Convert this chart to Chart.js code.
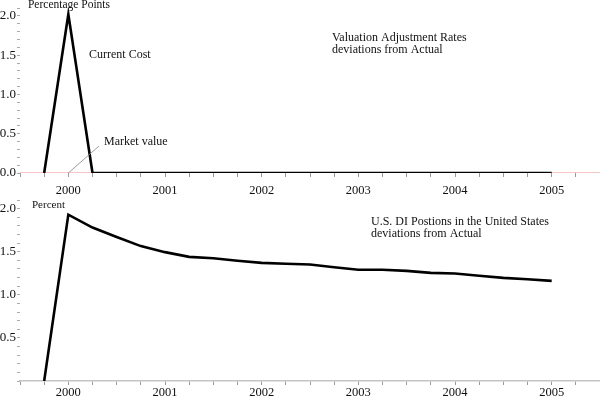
<!DOCTYPE html>
<html>
<head>
  <title>Valuation Adjustment Rates</title>
  <style>
    html, body { margin: 0; background: #fff; overflow: hidden; }
    .panel { position: relative; width: 600px; }
    #top { height: 197px; }
    #bottom { height: 208px; }
  </style>
</head>
<body>
  <div class="panel" id="top"><canvas id="topChart"></canvas></div>
  <div class="panel" id="bottom"><canvas id="bottomChart"></canvas></div>

  <script src="https://cdn.jsdelivr.net/npm/chart.js"></script>
  <script>
    // quarterly dates (fraction of year)
    const quarters = [1999.75, 2000, 2000.25, 2000.5, 2000.75, 2001, 2001.25, 2001.5, 2001.75,
      2002, 2002.25, 2002.5, 2002.75, 2003, 2003.25, 2003.5, 2003.75,
      2004, 2004.25, 2004.5, 2004.75, 2005];
    const yearTicks = [2000, 2001, 2002, 2003, 2004, 2005];

    // top panel: valuation adjustment rates, deviations from actual
    const currentCost = [0, 2.02, 0, 0, 0, 0, 0, 0, 0, 0, 0, 0, 0, 0, 0, 0, 0, 0, 0, 0, 0, 0];
    const marketYears = [1999.5, 2005.5];
    const marketValue = [0, 0];

    // bottom panel: U.S. DI positions, deviations from actual
    const diPositions = [0, 1.93, 1.78, 1.67, 1.565, 1.495, 1.44, 1.425, 1.395,
      1.37, 1.36, 1.352, 1.32, 1.29, 1.29, 1.278, 1.255,
      1.247, 1.222, 1.197, 1.18, 1.162];

    const serif = "'Liberation Serif', 'DejaVu Serif', serif";
    Chart.defaults.font.family = serif;
    Chart.defaults.color = '#111';

    function pts(xs, ys) {
      return xs.map((x, i) => ({ x: x, y: ys[i] }));
    }

    function xScale(showBorder, labelPad) {
      return {
        type: 'linear',
        min: 1999.5,
        max: 2005.5,
        border: { display: showBorder, color: '#c4c4c4', width: 1.5 },
        grid: { drawOnChartArea: false, color: '#999', tickLength: 4, tickWidth: 1 },
        ticks: {
          stepSize: 0.25,
          autoSkip: false,
          maxRotation: 0,
          padding: labelPad,
          font: { size: 12.5 },
          callback: v => yearTicks.includes(v) ? String(v) : ''
        },
        afterFit: s => {
          s.height = 24;
          s.paddingLeft = 0;
          s.paddingRight = 0;
        }
      };
    }

    function yScale(min, max, hideZero) {
      return {
        min: min,
        max: max,
        border: { display: false },
        grid: { drawOnChartArea: false, color: '#aaa', tickLength: 3 },
        ticks: {
          stepSize: 0.1,
          autoSkip: false,
          padding: 1,
          font: { size: 13 },
          callback: v => {
            const h = v * 2;
            if (Math.abs(h - Math.round(h)) > 1e-6) return '';
            if (hideZero && Math.abs(v) < 1e-6) return '';
            return v.toFixed(1);
          }
        },
        afterFit: s => {
          s.width = 20;
          s.paddingTop = 0;
          s.paddingBottom = 0;
        }
      };
    }

    function textPlugin(id, items, extra) {
      return {
        id: id,
        afterDraw(chart) {
          const c = chart.ctx;
          c.save();
          c.fillStyle = '#111';
          c.textBaseline = 'middle';
          items.forEach(t => {
            c.font = t.size + 'px ' + serif;
            c.textAlign = t.align || 'left';
            c.fillText(t.text, t.x, t.y);
          });
          if (extra) extra(chart, c);
          c.restore();
        }
      };
    }

    const topNotes = [
      { text: 'Percentage Points', x: 69, y: 5, size: 11.5, align: 'center' },
      { text: 'Current Cost', x: 89, y: 55, size: 12 },
      { text: 'Valuation Adjustment Rates', x: 332, y: 38, size: 12 },
      { text: 'deviations from Actual', x: 332, y: 50, size: 12 },
      { text: 'Market value', x: 104, y: 142, size: 12 }
    ];

    new Chart(document.getElementById('topChart'), {
      type: 'line',
      data: {
        datasets: [
          {
            label: 'Current Cost',
            data: pts(quarters, currentCost),
            borderColor: '#000',
            borderWidth: 2.6,
            pointRadius: 0,
            tension: 0
          },
          {
            label: 'Market value',
            data: pts(marketYears, marketValue),
            borderColor: '#f08a8a',
            borderWidth: 1,
            pointRadius: 0,
            tension: 0
          }
        ]
      },
      options: {
        responsive: true,
        maintainAspectRatio: false,
        animation: false,
        layout: { padding: { top: 8, right: 0, left: 0, bottom: 0 } },
        plugins: { legend: { display: false }, tooltip: { enabled: false } },
        scales: { x: xScale(false, 6), y: yScale(0, 2.1, false) }
      },
      plugins: [textPlugin('topNotes', topNotes, (chart, c) => {
        const x0 = chart.scales.x.getPixelForValue(2000);
        const y0 = chart.scales.y.getPixelForValue(0);
        c.strokeStyle = '#888';
        c.lineWidth = 0.8;
        c.beginPath();
        c.moveTo(x0, y0);
        c.lineTo(99, 146);
        c.stroke();
      })]
    });

    const bottomNotes = [
      { text: 'Percent', x: 32, y: 8, size: 11 },
      { text: 'U.S. DI Postions in the United States', x: 371, y: 25, size: 12 },
      { text: 'deviations from Actual', x: 371, y: 37, size: 12 }
    ];

    new Chart(document.getElementById('bottomChart'), {
      type: 'line',
      data: {
        datasets: [{
          label: 'U.S. DI Positions',
          data: pts(quarters, diPositions),
          borderColor: '#000',
          borderWidth: 2.6,
          pointRadius: 0,
          tension: 0
        }]
      },
      options: {
        responsive: true,
        maintainAspectRatio: false,
        animation: false,
        layout: { padding: { top: 3, right: 0, left: 0, bottom: 0 } },
        plugins: { legend: { display: false }, tooltip: { enabled: false } },
        scales: { x: xScale(true, 0), y: yScale(0, 2.1, true) }
      },
      plugins: [textPlugin('bottomNotes', bottomNotes)]
    });
  </script>
</body>
</html>
